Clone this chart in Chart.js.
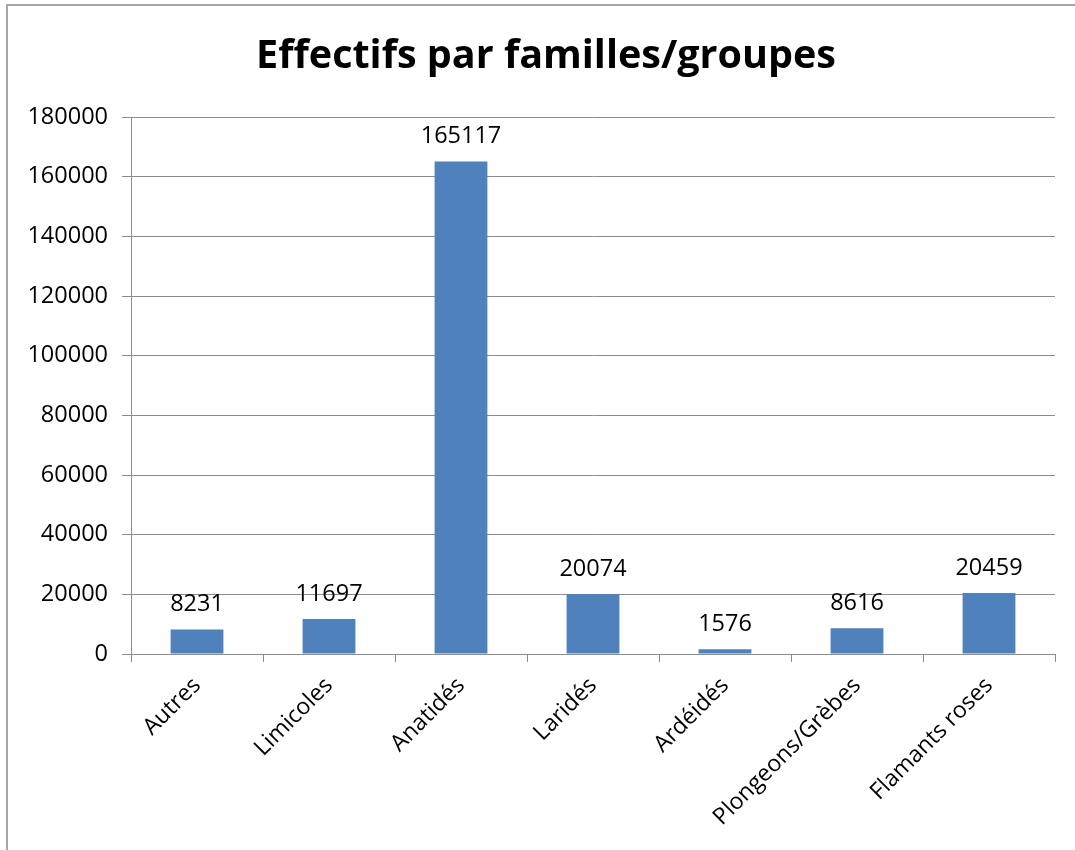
<!DOCTYPE html>
<html>
<head>
<meta charset="utf-8">
<script src="https://cdn.jsdelivr.net/npm/chart.js@4.4.1/dist/chart.umd.min.js"></script>
<style>
  html, body { margin: 0; padding: 0; background: #fff; }
  #wrap { position: relative; width: 1075px; height: 850px; }
  #frame {
    position: absolute; left: 6px; top: 4px; right: 0; bottom: 0;
    border-left: 2px solid #a6a6a6; border-top: 2px solid #a6a6a6;
  }
  canvas { position: absolute; left: 0; top: 0; }
</style>
</head>
<body>
<div id="wrap">
  <div id="frame"></div>
  <canvas id="chart" width="1075" height="850"></canvas>
</div>
<script>
// ── Data ─────────────────────────────────────
const titleText = 'Effectifs par familles/groupes';
const categories = ['Autres', 'Limicoles', 'Anatidés', 'Laridés', 'Ardéidés', 'Plongeons/Grèbes', 'Flamants roses'];
const counts = [8231, 11697, 165117, 20074, 1576, 8616, 20459];
const yTicks = [0, 20000, 40000, 60000, 80000, 100000, 120000, 140000, 160000, 180000];

const FONT = '"Open Sans", "Liberation Sans", sans-serif';
const AXIS_GREY = '#8c8c8c';

// ── Plugins ──────────────────────────────────
const titleDraw = {
  id: 'titleDraw',
  afterDraw(chart) {
    const ctx = chart.ctx;
    ctx.save();
    ctx.font = 'bold 39.5px ' + FONT;
    ctx.fillStyle = '#000';
    ctx.textAlign = 'center';
    ctx.textBaseline = 'middle';
    ctx.fillText(titleText, 546, 57);
    ctx.restore();
  }
};

const valueLabels = {
  id: 'valueLabels',
  afterDatasetsDraw(chart) {
    const ctx = chart.ctx;
    const meta = chart.getDatasetMeta(0);
    ctx.save();
    ctx.font = '23.5px ' + FONT;
    ctx.fillStyle = '#000';
    ctx.textAlign = 'center';
    ctx.textBaseline = 'bottom';
    meta.data.forEach((bar, i) => {
      ctx.fillText(String(counts[i]), bar.x, bar.y - 13);
    });
    ctx.restore();
  }
};

// ── Chart ────────────────────────────────────
new Chart(document.getElementById('chart').getContext('2d'), {
  type: 'bar',
  data: {
    labels: categories,
    datasets: [{
      data: counts,
      backgroundColor: '#4f81bd',
      borderWidth: 0,
      categoryPercentage: 1,
      barPercentage: 0.4,
    }],
  },
  options: {
    responsive: false,
    animation: false,
    devicePixelRatio: 1,
    layout: { padding: { top: 117, right: 20, left: 0, bottom: 0 } },
    plugins: {
      legend: { display: false },
      title: { display: false },
      tooltip: { enabled: false },
    },
    scales: {
      x: {
        offset: true,
        grid: { offset: true, drawOnChartArea: false, drawTicks: true, tickLength: 8, color: AXIS_GREY },
        border: { color: AXIS_GREY, width: 1 },
        ticks: {
          color: '#000', font: { family: FONT, size: 23 },
          minRotation: 45, maxRotation: 45, padding: 10, autoSkip: false,
        },
        afterFit(scale) { scale.height = 196; },
      },
      y: {
        min: 0, max: 180000,
        afterBuildTicks(scale) { scale.ticks = yTicks.map(v => ({ value: v })); },
        grid: { color: AXIS_GREY, tickLength: 9, drawTicks: true },
        border: { color: AXIS_GREY, width: 1 },
        ticks: {
          color: '#000', font: { family: FONT, size: 23.5 }, padding: 14,
          callback: v => String(v),
        },
        afterFit(scale) { scale.width = 131; },
      },
    },
  },
  plugins: [titleDraw, valueLabels],
});
</script>
</body>
</html>
